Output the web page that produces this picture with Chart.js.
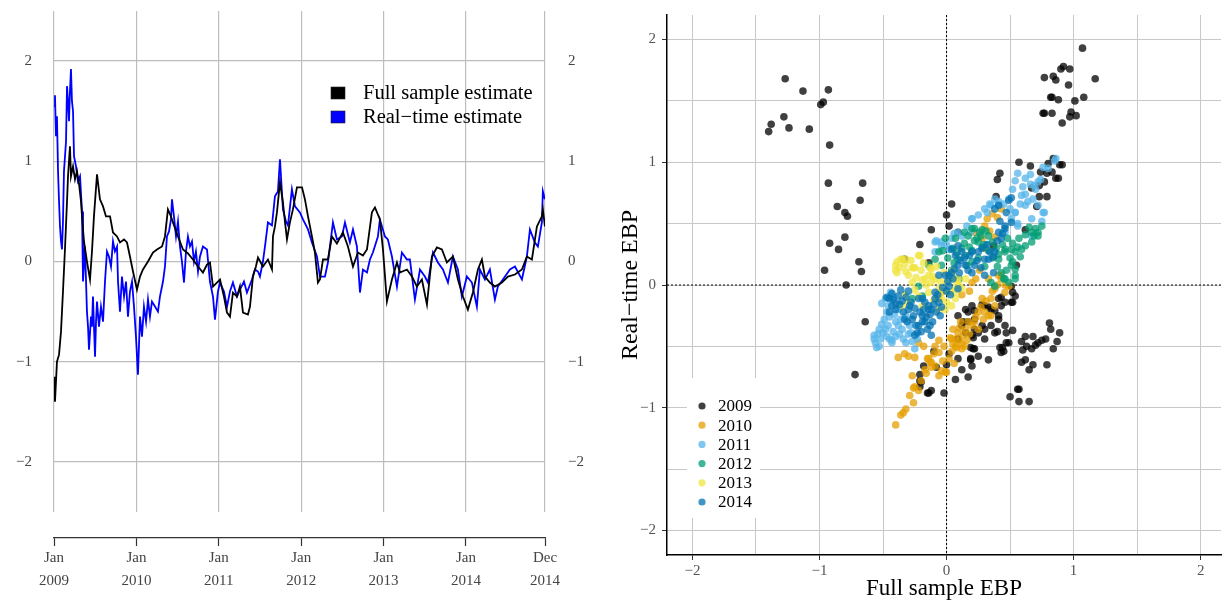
<!DOCTYPE html>
<html>
<head>
<meta charset="utf-8">
<script src="https://cdn.jsdelivr.net/npm/chart.js@4.4.1/dist/chart.umd.min.js"></script>
<style>
body { margin: 0; background: #fff; }
#wrap { position: relative; width: 1225px; height: 600px; }
#left { position: absolute; left: 0; top: 0; width: 612px; height: 600px; }
#right { position: absolute; left: 612px; top: 0; width: 613px; height: 600px; }
</style>
</head>
<body>
<div id="wrap">
  <div id="left"><canvas id="tsChart"></canvas></div>
  <div id="right"><canvas id="scChart"></canvas></div>
</div>
<script>
// ---- left panel: EBP over time (dates as fractional years) ----
var fullDates = [2009.000,2009.012,2009.036,2009.061,2009.085,2009.109,2009.133,2009.158,2009.170,2009.194,2009.206,2009.231,2009.255,2009.279,2009.303,2009.328,2009.340,2009.364,2009.400,2009.437,2009.461,2009.485,2009.522,2009.558,2009.595,2009.631,2009.680,2009.716,2009.765,2009.801,2009.850,2009.886,2009.922,2009.959,
  2010.007,2010.044,2010.080,2010.141,2010.201,2010.250,2010.311,2010.347,2010.383,2010.420,2010.444,2010.505,2010.566,2010.626,2010.687,2010.748,2010.808,2010.857,2010.893,2010.930,2010.978,
  2011.015,2011.063,2011.100,2011.136,2011.172,2011.221,2011.257,2011.294,2011.354,2011.379,2011.415,2011.451,2011.476,2011.536,2011.597,2011.646,2011.658,2011.682,2011.706,2011.743,2011.779,2011.803,2011.828,2011.864,2011.900,2011.949,
  2012.010,2012.046,2012.083,2012.107,2012.143,2012.167,2012.204,2012.228,2012.265,2012.325,2012.374,2012.434,2012.507,2012.568,2012.629,2012.689,2012.750,2012.799,2012.859,2012.896,2012.956,2012.993,
  2013.041,2013.102,2013.163,2013.199,2013.284,2013.345,2013.405,2013.466,2013.527,2013.587,2013.648,2013.709,2013.769,2013.842,2013.903,2013.964,
  2014.024,2014.085,2014.146,2014.194,2014.231,2014.291,2014.352,2014.437,2014.510,2014.595,2014.680,2014.740,2014.801,2014.862,2014.922,2014.934,2014.959];
var fullEbp = [-1.15,-1.40,-1.00,-0.93,-0.70,-0.30,0.12,0.60,0.85,1.15,0.85,0.95,0.82,0.90,0.78,0.60,0.45,0.20,0.00,-0.18,0.10,0.45,0.87,0.62,0.55,0.45,0.45,0.29,0.25,0.19,0.22,0.19,0.05,-0.10,
  -0.28,-0.15,-0.08,0.00,0.09,0.12,0.15,0.25,0.52,0.45,0.39,0.25,0.12,0.08,0.02,-0.05,-0.11,-0.03,-0.01,-0.25,-0.21,
  -0.18,-0.35,-0.51,-0.55,-0.31,-0.35,-0.25,-0.51,-0.53,-0.45,-0.15,-0.05,0.04,-0.05,0.02,-0.08,0.25,0.35,0.49,0.79,0.59,0.40,0.22,0.39,0.52,0.74,
  0.74,0.62,0.45,0.35,0.20,0.09,-0.21,-0.18,0.02,0.02,0.25,0.18,0.29,0.15,-0.05,0.09,0.06,0.12,0.49,0.54,0.42,0.12,
  -0.40,-0.18,-0.01,-0.11,-0.08,-0.15,-0.25,-0.18,-0.43,0.05,0.14,0.12,-0.01,0.05,-0.18,-0.35,
  -0.48,-0.31,-0.08,0.02,-0.15,-0.21,-0.25,-0.21,-0.15,-0.13,-0.08,0.05,0.02,0.35,0.45,0.52,0.35];

var rtDates = [2009.000,2009.012,2009.024,2009.036,2009.049,2009.061,2009.073,2009.085,2009.097,2009.109,2009.121,2009.146,2009.158,2009.170,2009.182,2009.194,2009.206,2009.218,2009.231,2009.243,2009.267,2009.291,2009.316,2009.340,2009.352,2009.376,2009.400,2009.413,2009.425,2009.449,2009.461,2009.473,2009.498,2009.510,2009.522,2009.546,2009.570,2009.595,2009.619,2009.643,2009.667,2009.692,2009.716,2009.740,2009.765,2009.777,2009.801,2009.825,2009.850,2009.874,2009.898,2009.922,2009.947,2009.971,2009.995,
  2010.019,2010.044,2010.068,2010.092,2010.117,2010.141,2010.165,2010.189,2010.226,2010.262,2010.286,2010.323,2010.347,2010.371,2010.396,2010.420,2010.432,2010.456,2010.481,2010.505,2010.529,2010.553,2010.578,2010.602,2010.626,2010.650,2010.675,2010.699,2010.723,2010.748,2010.772,2010.808,2010.857,2010.893,2010.930,2010.954,2010.990,
  2011.015,2011.063,2011.100,2011.136,2011.172,2011.221,2011.257,2011.306,2011.342,2011.403,2011.439,2011.476,2011.500,2011.536,2011.561,2011.597,2011.646,2011.682,2011.718,2011.743,2011.779,2011.816,2011.840,2011.888,2011.925,2011.985,
  2012.022,2012.083,2012.131,2012.192,2012.228,2012.289,2012.325,2012.386,2012.434,2012.495,2012.532,2012.592,2012.629,2012.677,2012.714,2012.750,2012.799,2012.835,2012.871,2012.932,2012.956,
  2013.017,2013.053,2013.102,2013.163,2013.223,2013.284,2013.320,2013.381,2013.442,2013.502,2013.539,2013.600,2013.660,2013.721,2013.782,2013.842,2013.903,2013.951,
  2014.012,2014.073,2014.133,2014.170,2014.231,2014.291,2014.352,2014.388,2014.449,2014.534,2014.595,2014.680,2014.740,2014.777,2014.837,2014.874,2014.922,2014.934,2014.959];
var rtEbp = [1.55,1.66,1.25,1.45,0.90,0.60,0.35,0.20,0.12,0.40,0.90,1.20,1.75,1.60,1.40,1.70,1.92,1.60,1.50,1.05,0.95,0.80,0.85,0.50,-0.20,0.15,-0.50,-0.65,-0.88,-0.55,-0.65,-0.35,-0.95,-0.60,-0.40,-0.65,-0.45,-0.60,-0.20,0.10,0.05,-0.05,0.20,0.10,0.15,-0.20,-0.50,-0.15,-0.35,-0.20,-0.55,-0.30,-0.20,-0.45,-0.75,
  -1.13,-0.55,-0.75,-0.45,-0.60,-0.38,-0.55,-0.40,-0.45,-0.50,-0.35,-0.20,-0.05,0.25,0.30,0.42,0.62,0.45,0.25,0.40,0.15,0.00,-0.21,0.10,0.25,0.15,0.20,0.00,0.10,-0.10,0.05,0.15,0.12,-0.20,-0.35,-0.58,-0.30,
  -0.21,-0.30,-0.45,-0.30,-0.21,-0.35,-0.28,-0.20,-0.31,-0.18,-0.08,-0.10,-0.15,0.00,0.15,0.39,0.36,0.65,0.70,1.02,0.52,0.40,0.36,0.72,0.55,0.49,
  0.42,0.32,0.19,0.05,-0.15,-0.15,-0.01,0.39,0.22,0.25,0.39,0.19,0.32,0.15,-0.31,-0.08,-0.11,0.02,0.09,0.25,0.42,
  0.25,0.22,0.05,-0.25,0.09,0.02,0.02,-0.38,-0.08,-0.15,-0.21,0.09,-0.01,-0.08,-0.21,0.05,-0.08,-0.35,
  -0.15,-0.21,-0.45,-0.08,-0.18,-0.08,-0.38,-0.25,-0.18,-0.08,-0.05,-0.18,0.05,0.32,0.19,0.15,0.39,0.70,0.62];

var yearTicks = [2009, 2010, 2011, 2012, 2013, 2014, 2014.96];
var yearTickLabels = [['Jan','2009'],['Jan','2010'],['Jan','2011'],['Jan','2012'],['Jan','2013'],['Jan','2014'],['Dec','2014']];
var levelTicks = [-2, -1, 0, 1, 2];

// ---- right panel: real-time vs full sample EBP, [full, real-time] per year ----
var scatterYears = ['2009', '2010', '2011', '2012', '2013', '2014'];
var ebp2009 = [[-1.27,1.68],[-1.13,1.58],[-0.93,1.59],[-0.99,1.47],[-0.97,1.49],[-1.28,1.37],[-1.38,1.31],[-1.40,1.25],[-1.24,1.28],[-1.08,1.27],[-0.92,1.14],[-0.93,0.83],[-0.66,0.83],[-0.68,0.69],[-0.86,0.64],[-0.80,0.59],[-0.78,0.56],[-0.80,0.39],[-0.92,0.34],[-0.85,0.29],[-0.69,0.19],[-0.96,0.12],[-0.67,0.11],[-0.79,0.00],[-0.12,0.45],[-0.21,0.33],[-0.33,0.21],[-0.14,0.18],[-0.64,-0.30],[-0.72,-0.73],[-0.18,-0.66],[-0.21,-0.73],[-0.21,-0.83],[-0.15,-0.88],[-0.12,-0.86],[-0.10,-0.54],
  [1.07,1.93],[0.92,1.78],[0.90,1.76],[0.97,1.76],[0.77,1.69],[0.84,1.70],[0.86,1.67],[1.17,1.68],[0.96,1.63],[0.82,1.53],[0.83,1.53],[0.88,1.51],[1.08,1.53],[1.01,1.50],[0.76,1.40],[0.77,1.40],[0.83,1.40],[0.98,1.41],[0.97,1.37],[1.02,1.38],[0.91,1.32],
  [0.57,1.00],[0.66,0.97],[0.84,1.03],[0.80,0.99],[0.89,0.98],[0.91,0.98],[0.74,0.92],[0.79,0.91],[0.83,0.92],[0.86,0.87],[0.88,0.87],[0.42,0.91],[0.40,0.86],[0.77,0.84],[0.73,0.81],[0.67,0.79],[0.79,0.72],[0.73,0.72],[0.39,0.72],[0.71,0.64],[0.04,0.66],[0.00,0.57],[0.02,0.48],[0.09,0.43],[0.62,0.45],[0.37,0.32],[0.55,0.16],
  [0.81,-0.31],[0.82,-0.36],[0.89,-0.39],[0.78,-0.44],[0.75,-0.45],[0.72,-0.47],[0.87,-0.46],[0.68,-0.42],[0.62,-0.42],[0.59,-0.46],[0.70,-0.49],[0.67,-0.52],[0.63,-0.50],[0.60,-0.53],[0.84,-0.52],[0.79,-0.65],[0.62,-0.61],[0.59,-0.63],[0.68,-0.65],[0.65,-0.69],[0.57,-0.85],[0.50,-0.91],[0.57,-0.95],[0.65,-0.95],[0.52,-0.37],[0.47,-0.39],[0.40,-0.38],[0.47,-0.47],[0.42,-0.51],[0.45,-0.54],[0.44,-0.51],[0.33,-0.61],[0.25,-0.58],[0.19,-0.51],[0.22,-0.52],[0.19,-0.61],[0.20,-0.66],[0.12,-0.69],[0.17,-0.75],[0.09,-0.60],[0.00,-0.65],[-0.08,-0.67],[-0.20,-0.79],
  [0.17,-0.22],[0.22,-0.21],[0.28,-0.16],[0.33,-0.18],[0.38,-0.21],[0.41,-0.11],[0.46,-0.14],[0.52,-0.06],[0.52,-0.14],[0.22,-0.36],[0.30,-0.36],[0.21,-0.43],[0.13,-0.30],[0.41,-0.28],[0.35,-0.33],[0.51,-0.01],[0.43,-0.10],[0.15,-0.20],[0.20,-0.17],[0.17,-0.30],[0.22,-0.28],[0.28,-0.33],[0.30,-0.17],[0.09,-0.25],[0.12,-0.33],[0.15,-0.39],[0.20,-0.41],[0.25,-0.39],[0.35,-0.20],[0.43,-0.17],[0.41,-0.25],[0.46,-0.33],[0.51,-0.14],[0.54,-0.09],[0.38,-0.39],[0.30,-0.44],[0.43,-0.55],[0.49,-0.47],[0.09,-0.44],[0.21,-0.52],[0.02,-0.56],[0.19,-0.60],[0.07,-0.77],[-0.02,-0.88],[-0.14,-0.88],[-0.21,-0.78],[0.56,-0.85]];
var ebp2010 = [[-0.40,-1.14],[-0.36,-1.06],[-0.34,-1.04],[-0.32,-1.01],[-0.26,-0.96],[-0.26,-0.84],[-0.25,-0.83],[-0.27,-0.74],[-0.20,-0.78],[-0.38,-0.59],[-0.33,-0.56],[-0.25,-0.59],[-0.18,-0.50],[-0.14,-0.60],[-0.12,-0.63],[-0.09,-0.66],[-0.13,-0.63],[-0.12,-0.67],[-0.06,-0.74],[-0.04,-0.70],[-0.15,-0.60],[-0.01,-0.71],[-0.06,-0.55],[-0.02,-0.50],[-0.06,-0.45],[-0.09,-0.50],[0.07,-0.44],[0.09,-0.39],[0.13,-0.41],[0.16,-0.45],[0.12,-0.48],[0.08,-0.51],[0.04,-0.54],[0.15,-0.36],[0.17,-0.30],[0.11,-0.30],[0.05,-0.36],[0.03,-0.43],[0.25,-0.22],[0.29,-0.28],[0.33,-0.25],[0.35,-0.11],[0.38,-0.17],[0.46,-0.06],[0.49,-0.01],[0.43,0.05],[0.25,-0.36],[0.22,-0.30],[0.22,0.43],[0.30,0.48],[0.32,0.54],[0.43,0.62],[0.28,0.38],[0.38,0.39],[0.41,0.08],[0.46,0.00],[0.38,-0.03],[0.33,0.05],[0.43,0.08],[0.28,-0.11],[0.30,-0.22],[0.35,-0.25],[-0.04,-0.06],[-0.06,-0.11],[-0.22,-0.47],[-0.30,-0.58],[-0.17,-0.69],[0.04,-0.44],[0.07,-0.50],[0.12,-0.52],[0.00,-0.71],[0.12,-0.08],[0.20,0.02],[0.26,0.12],
  [0.02,-0.60],[0.05,-0.48],[0.10,-0.45],[0.14,-0.50],[0.18,-0.40],[0.10,-0.35],[0.20,-0.33],[0.23,-0.26],[0.27,-0.18],[0.31,-0.13],[0.36,-0.05],[0.40,0.00],[0.18,-0.05],[0.23,0.05],[0.30,0.30],[0.34,0.44],[0.40,0.55],[0.36,0.58],[-0.10,-0.56],[-0.03,-0.62],[0.06,-0.64],[-0.22,-0.86],[-0.29,-0.90],[-0.16,-0.72]];
var ebp2011 = [[-0.55,-0.51],[-0.57,-0.44],[-0.53,-0.36],[-0.49,-0.28],[-0.47,-0.22],[-0.43,-0.45],[-0.48,-0.11],[-0.44,-0.06],[-0.40,-0.30],[-0.35,-0.36],[-0.32,-0.25],[-0.38,-0.20],[-0.25,-0.52],[-0.23,-0.44],[-0.28,-0.39],[-0.57,-0.41],[-0.53,-0.50],[-0.45,-0.44],[-0.43,-0.47],[-0.48,-0.36],[-0.38,-0.33],[-0.32,-0.47],[-0.09,0.35],[-0.04,0.32],[0.02,0.29],[0.09,0.43],[0.20,0.54],[0.35,0.65],[0.41,0.65],[0.54,0.59],[0.62,0.65],[0.72,0.65],[0.77,0.59],[0.56,0.48],[0.46,0.43],[0.67,0.40],[0.86,1.03],[0.85,1.01],[0.76,0.96],[0.72,0.84],[0.69,0.81],[0.56,0.91],[0.54,0.85],[0.52,0.78],[0.62,0.87],[0.66,0.82],[0.49,0.70],[0.41,0.68],[0.34,0.66],[0.59,0.73],[0.64,0.68],[0.68,0.70],[0.54,0.59],[0.51,0.54],[0.56,0.50],[0.67,0.54],[0.75,0.52],[0.76,0.59],[0.32,0.59],[0.25,0.57],[0.20,0.54],[0.19,0.43],[0.12,0.40],[0.04,0.38],[-0.04,0.35],[-0.08,0.36],[-0.09,0.27],
  [-0.56,-0.47],[-0.54,-0.40],[-0.52,-0.44],[-0.51,-0.32],[-0.50,-0.39],[-0.47,-0.42],[-0.46,-0.33],[-0.45,-0.26],[-0.42,-0.38],[-0.41,-0.24],[-0.40,-0.42],[-0.37,-0.40],[-0.36,-0.28],[-0.34,-0.44],[-0.30,-0.40],[-0.29,-0.33],[-0.27,-0.46],[-0.51,-0.15],[-0.46,-0.17],[-0.42,-0.10],
  [0.30,0.62],[0.38,0.70],[0.45,0.66],[0.50,0.62],[0.58,0.66],[0.62,0.74],[0.70,0.78],[0.74,0.86],[0.80,0.95],[0.60,0.80],[0.66,0.90],[0.16,0.48],[0.06,0.42],[0.00,0.33]];
var ebp2012 = [[0.75,0.48],[0.72,0.43],[0.69,0.40],[0.67,0.43],[0.62,0.32],[0.56,0.31],[0.51,0.29],[0.46,0.27],[0.41,0.25],[0.33,0.28],[0.28,0.31],[0.24,0.38],[0.26,0.43],[0.22,0.46],[0.52,0.19],[0.54,0.13],[0.54,0.08],[0.49,0.02],[0.45,0.05],[-0.01,0.38],[0.07,0.38],[0.17,0.40],[0.25,0.35],[0.33,0.40],[0.46,0.29],[0.54,0.27],[0.59,0.29],[0.67,0.35],[0.72,0.40],[0.09,0.21],[0.15,0.24],[0.20,0.19],[0.41,0.21],[0.43,0.10],[0.51,0.16],[0.54,0.05],[0.46,0.05],[0.38,-0.01],[0.35,0.02],[-0.06,0.27],[-0.09,0.21],[-0.14,0.16],[-0.04,0.16],[-0.22,-0.01],[-0.19,-0.09],[-0.27,-0.11],[0.12,0.30],[0.20,0.28],[0.30,0.33],[0.04,0.12],[0.10,0.05],[0.30,0.15],[0.36,0.22],
  [0.05,0.30],[0.08,0.26],[0.14,0.34],[0.18,0.31],[0.22,0.36],[0.27,0.40],[0.31,0.44],[0.36,0.35],[0.39,0.30],[0.44,0.33],[0.48,0.38],[0.52,0.34],[0.57,0.38],[0.62,0.41],[0.65,0.47],[0.70,0.46],[0.58,0.23],[0.50,0.22],[0.47,0.12],[0.40,0.15],[0.25,0.22],[0.16,0.16],[0.06,0.18],[0.01,0.22],[-0.03,0.28],[0.28,0.45],[0.20,0.46],[0.14,0.43]];
var ebp2013 = [[-0.40,0.16],[-0.36,0.21],[-0.32,0.21],[-0.39,0.10],[-0.32,0.11],[-0.25,0.14],[-0.21,0.24],[-0.27,0.02],[-0.19,0.04],[-0.14,0.08],[-0.12,0.13],[-0.09,0.05],[-0.39,0.19],[-0.35,0.21],[-0.40,0.12],[-0.26,0.14],[-0.17,0.05],[-0.12,0.02],[-0.06,-0.03],[-0.14,-0.06],[-0.22,-0.09],[-0.30,-0.14],[-0.35,-0.17],[-0.19,-0.17],[-0.04,-0.11],[0.02,-0.06],[0.07,-0.03],[0.09,0.05],[0.15,0.05],[0.07,-0.11],[0.04,-0.17],[-0.01,-0.20],[-0.06,-0.20],[-0.02,0.10],[0.03,0.05],[-0.27,0.14],[-0.22,0.24],[-0.13,0.14],[0.04,0.08],[0.08,0.02],[0.12,-0.03],
  [-0.37,0.14],[-0.33,0.17],[-0.30,0.08],[-0.28,0.20],[-0.24,0.06],[-0.20,0.12],[-0.18,0.18],[-0.16,0.00],[-0.11,0.07],[-0.08,0.15],[-0.05,0.03],[-0.03,-0.05],[0.00,0.02],[0.05,0.12],[0.06,-0.06],[0.10,0.00],[-0.25,-0.04],[-0.33,-0.08],[-0.10,-0.12],[0.00,-0.14]];
var ebp2014 = [[-0.47,-0.10],[-0.43,-0.07],[-0.35,-0.13],[-0.30,-0.20],[-0.45,-0.22],[-0.19,-0.11],[-0.14,-0.17],[-0.09,-0.06],[-0.19,-0.30],[-0.25,-0.41],[-0.12,-0.41],[-0.45,-0.11],[-0.43,-0.17],[-0.38,-0.09],[-0.22,-0.11],[-0.17,-0.14],[-0.14,-0.20],[-0.19,-0.25],[-0.22,-0.33],[-0.17,-0.30],[-0.12,-0.20],[-0.09,-0.11],[-0.06,-0.14],[-0.23,-0.39],[-0.13,-0.33],[0.02,-0.01],[0.04,0.10],[0.09,0.16],[0.15,0.16],[0.22,0.16],[0.30,0.21],[0.37,0.23],[0.41,0.43],[0.46,0.48],[0.47,0.59],[0.04,0.29],[0.09,0.32],[-0.06,0.08],[-0.01,0.08],[0.09,-0.03],[0.12,0.27],[0.20,0.27],[0.25,0.27],[0.38,0.62],[0.41,0.65],[0.49,0.69],[0.51,0.71],[0.46,0.46],[0.51,0.51],[0.43,0.38],[0.38,0.27],[0.33,0.21],[0.37,0.10],[0.30,0.08],[0.20,0.10],[0.07,0.24],[0.02,0.08],[-0.30,-0.05],[-0.26,-0.25],[-0.33,-0.28],[-0.40,-0.15],[-0.05,-0.25],[0.00,-0.05],[-0.28,-0.14],
  [-0.42,-0.12],[-0.40,-0.20],[-0.37,-0.16],[-0.34,-0.22],[-0.32,-0.10],[-0.29,-0.17],[-0.27,-0.28],[-0.25,-0.19],[-0.24,-0.33],[-0.21,-0.22],[-0.20,-0.38],[-0.18,-0.20],[-0.16,-0.26],[-0.15,-0.36],[-0.13,-0.24],[-0.11,-0.30],[-0.10,-0.16],[-0.08,-0.22],[-0.07,-0.08],[-0.04,-0.18],[-0.03,-0.02],[0.01,0.03],[0.03,-0.08],[0.05,0.05],[0.06,0.13],[0.10,0.10],[0.11,0.20],[0.14,0.22],[0.17,0.12],[0.18,0.24],[0.24,0.20],[0.27,0.14],[0.28,0.30],[0.32,0.33],[0.34,0.27],[0.40,0.36],[0.42,0.52],[0.44,0.42],[-0.36,-0.04],[-0.31,-0.30]];
var scatterPoints = [ebp2009, ebp2010, ebp2011, ebp2012, ebp2013, ebp2014];
var yearColors = ['rgba(0,0,0,0.75)', 'rgba(230,159,0,0.75)', 'rgba(86,180,233,0.75)', 'rgba(0,158,115,0.75)', 'rgba(240,228,66,0.75)', 'rgba(0,114,178,0.75)'];
var halfTicks = [-2, -1.5, -1, -0.5, 0, 0.5, 1, 1.5, 2];

var serif = "'Liberation Serif', 'DejaVu Serif', serif";

function minus(v) {
  return v < 0 ? '\u2212' + Math.abs(v) : String(v);
}
function setTicks(list) {
  return function (scale) { scale.ticks = list.map(function (v) { return { value: v }; }); };
}
function fixWidth(w) {
  return function (s) { s.width = w; s.paddingTop = 0; s.paddingBottom = 0; };
}

// legend inside the time series plot
var tsLegend = {
  id: 'tsLegend',
  afterDraw: function (chart) {
    var ctx = chart.ctx, a = chart.chartArea;
    ctx.save();
    chart.data.datasets.forEach(function (ds, i) {
      var y = a.top + 82 + i * 24;
      ctx.fillStyle = ds.borderColor;
      ctx.fillRect(a.right - 214, y - 6, 14, 12);
      ctx.strokeStyle = '#222';
      ctx.lineWidth = 0.6;
      ctx.strokeRect(a.right - 214, y - 6, 14, 12);
      ctx.fillStyle = '#000';
      ctx.font = '20.5px ' + serif;
      ctx.textBaseline = 'middle';
      ctx.fillText(ds.label, a.right - 182, y + 1);
    });
    ctx.restore();
  }
};

new Chart(document.getElementById('tsChart'), {
  type: 'line',
  data: {
    datasets: [
      { label: 'Full sample estimate', data: fullDates.map(function (t, i) { return { x: t, y: fullEbp[i] }; }),
        borderColor: '#000000', borderWidth: 1.8, pointRadius: 0, tension: 0 },
      { label: 'Real\u2212time estimate', data: rtDates.map(function (t, i) { return { x: t, y: rtEbp[i] }; }),
        borderColor: '#0000ff', borderWidth: 1.8, pointRadius: 0, tension: 0 }
    ]
  },
  options: {
    responsive: true, maintainAspectRatio: false, animation: false, devicePixelRatio: 1,
    layout: { padding: { top: 11, left: 0, right: 0, bottom: 0 } },
    plugins: { legend: { display: false }, tooltip: { enabled: false } },
    scales: {
      x: {
        type: 'linear', min: 2009, max: 2014.96, position: 'bottom', weight: 0,
        afterBuildTicks: setTicks(yearTicks),
        afterFit: function (s) { s.height = 26; },
        ticks: { display: false },
        border: { display: false },
        grid: { color: '#bdbdbd', lineWidth: 1.2, drawTicks: false }
      },
      xAxis: {
        type: 'linear', min: 2009, max: 2014.96, position: 'bottom', weight: 1,
        afterBuildTicks: setTicks(yearTicks),
        afterFit: function (s) { s.height = 62; },
        grid: { drawOnChartArea: false, tickLength: 8, tickColor: '#333', tickWidth: 1.2 },
        border: { display: true, color: '#333', width: 1.2 },
        ticks: {
          autoSkip: false, maxRotation: 0, padding: 1, color: '#444',
          font: { family: serif, size: 15, lineHeight: 1.5 },
          callback: function (v, i) { return yearTickLabels[i]; }
        }
      },
      y: {
        min: -2.5, max: 2.5, position: 'left',
        afterBuildTicks: setTicks(levelTicks),
        afterFit: fixWidth(54),
        border: { display: false },
        grid: { color: '#bdbdbd', lineWidth: 1.2, drawTicks: false },
        ticks: { padding: 22, color: '#444', font: { family: serif, size: 15 }, callback: minus }
      },
      y2: {
        min: -2.5, max: 2.5, position: 'right',
        afterBuildTicks: setTicks(levelTicks),
        afterFit: fixWidth(67),
        border: { display: false },
        grid: { display: false, drawOnChartArea: false, drawTicks: false },
        ticks: { padding: 23, color: '#444', font: { family: serif, size: 15 }, callback: minus }
      }
    }
  },
  plugins: [tsLegend]
});

// dotted zero lines and year legend for the scatter
var zeroLines = {
  id: 'zeroLines',
  beforeDatasetsDraw: function (chart) {
    var ctx = chart.ctx, a = chart.chartArea;
    var x0 = chart.scales.x.getPixelForValue(0);
    var y0 = chart.scales.y.getPixelForValue(0);
    ctx.save();
    ctx.strokeStyle = '#000';
    ctx.lineWidth = 1;
    ctx.setLineDash([2, 2]);
    ctx.beginPath();
    ctx.moveTo(x0, a.top); ctx.lineTo(x0, a.bottom);
    ctx.moveTo(a.left, y0); ctx.lineTo(a.right, y0);
    ctx.stroke();
    ctx.restore();
  }
};
var yearLegend = {
  id: 'yearLegend',
  afterDatasetsDraw: function (chart) {
    var ctx = chart.ctx, a = chart.chartArea;
    ctx.save();
    ctx.fillStyle = '#fff';
    ctx.fillRect(a.left + 20, a.bottom - 177, 73, 140);
    scatterYears.forEach(function (yr, i) {
      var y = a.bottom - 149 + i * 19.2;
      ctx.fillStyle = yearColors[i];
      ctx.beginPath();
      ctx.arc(a.left + 35, y, 3.6, 0, Math.PI * 2);
      ctx.fill();
      ctx.fillStyle = '#000';
      ctx.font = '17px ' + serif;
      ctx.textBaseline = 'middle';
      ctx.fillText(yr, a.left + 51, y + 1);
    });
    ctx.restore();
  }
};

new Chart(document.getElementById('scChart'), {
  type: 'scatter',
  data: {
    datasets: scatterYears.map(function (yr, i) {
      return {
        label: yr,
        data: scatterPoints[i].map(function (p) { return { x: p[0], y: p[1] }; }),
        backgroundColor: yearColors[i], borderColor: yearColors[i], borderWidth: 0,
        pointRadius: 3.8, order: scatterYears.length - i
      };
    })
  },
  options: {
    responsive: true, maintainAspectRatio: false, animation: false, devicePixelRatio: 1,
    layout: { padding: { top: 15, left: 0, right: 0, bottom: 0 } },
    plugins: { legend: { display: false }, tooltip: { enabled: false } },
    scales: {
      x: {
        type: 'linear', min: -2.2, max: 2.16,
        afterBuildTicks: setTicks(halfTicks),
        afterFit: function (s) { s.height = 45; },
        border: { display: true, color: '#000', width: 1.5 },
        grid: {
          color: '#c8c8c8', lineWidth: 1, tickLength: 5,
          tickColor: function (c) { return Number.isInteger(c.tick.value) ? '#333' : 'rgba(0,0,0,0)'; }
        },
        ticks: {
          padding: 2, color: '#555', font: { family: serif, size: 15 },
          callback: function (v) { return Number.isInteger(v) ? minus(v) : ''; }
        },
        title: { display: true, text: 'Full sample EBP', color: '#000', font: { family: serif, size: 23, lineHeight: 1 }, padding: { top: 0, bottom: 0 } }
      },
      y: {
        type: 'linear', min: -2.2, max: 2.2,
        afterBuildTicks: setTicks(halfTicks),
        afterFit: function (s) { s.width = 55; },
        border: { display: true, color: '#000', width: 1.5 },
        grid: {
          color: '#c8c8c8', lineWidth: 1, tickLength: 5,
          tickColor: function (c) { return Number.isInteger(c.tick.value) ? '#333' : 'rgba(0,0,0,0)'; }
        },
        ticks: {
          padding: 6, color: '#555', font: { family: serif, size: 15 },
          callback: function (v) { return Number.isInteger(v) ? minus(v) : ''; }
        },
        title: { display: true, text: 'Real\u2212time EBP', color: '#000', font: { family: serif, size: 24 }, padding: { top: 4, bottom: 0 } }
      }
    }
  },
  plugins: [zeroLines, yearLegend]
});
</script>
</body>
</html>
